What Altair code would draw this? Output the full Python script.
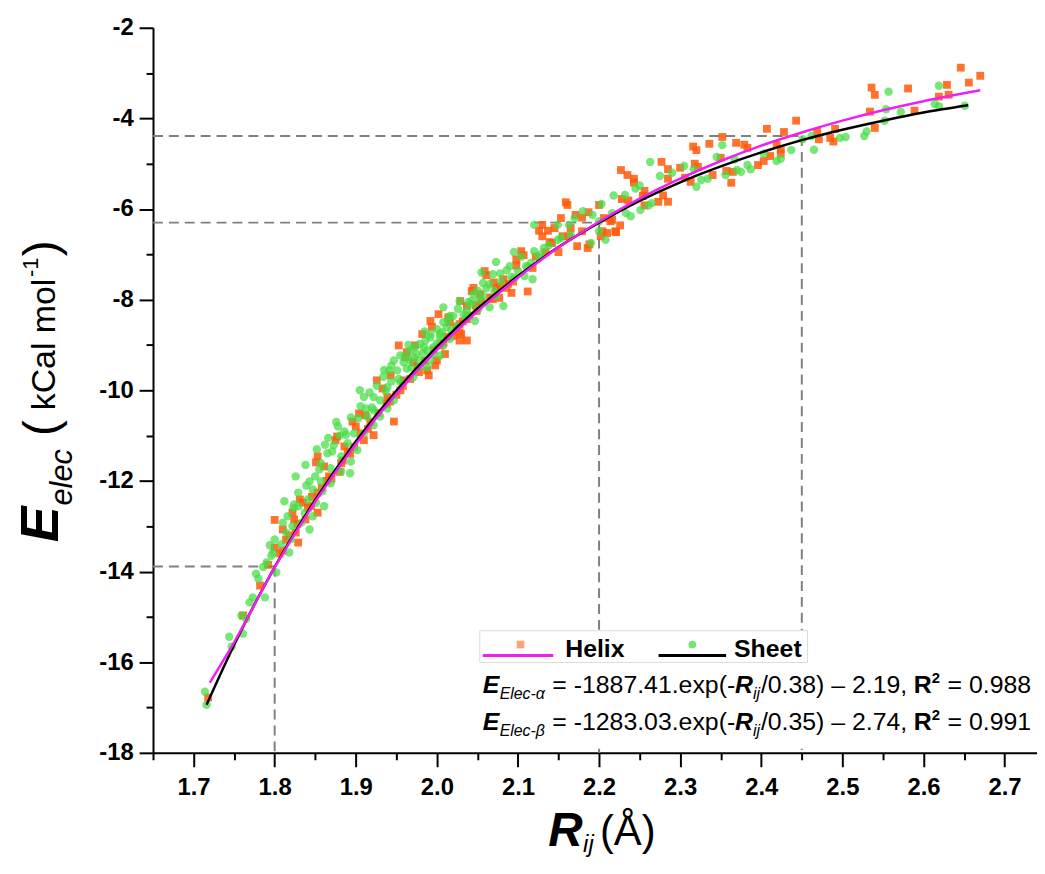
import altair as alt
import pandas as pd

# ---------------- data ----------------
helix_x = [2.646, 2.670, 2.656, 2.629, 2.536, 2.581, 2.540, 2.631, 2.619, 2.534, 2.589, 2.443, 2.540, 2.491,
           2.407, 2.428, 2.469, 2.471, 2.485, 2.489, 2.352, 2.336, 2.369, 2.379, 2.383, 2.316, 2.320, 2.419,
           2.424, 2.424, 2.411, 2.403, 2.396, 2.350, 2.277, 2.285, 2.300, 2.318, 2.322, 2.357, 2.365, 2.340,
           2.363, 2.227, 2.235, 2.243, 2.243, 2.285, 2.306, 2.313, 2.256, 2.254, 2.279, 2.273, 2.285, 2.228,
           2.236, 2.256, 2.200, 2.159, 2.161, 2.153, 2.171, 2.179, 2.187, 2.206, 2.214, 2.226, 2.221, 2.210,
           2.202, 2.188, 2.173, 2.130, 2.126, 2.137, 2.145, 2.130, 2.139, 2.155, 2.163, 2.165, 2.179, 2.186,
           2.204, 2.220, 2.216, 2.104, 2.107, 2.098, 2.112, 2.059, 2.061, 2.082, 2.086, 2.092, 2.073, 2.045,
           2.043, 2.053, 2.069, 2.077, 2.029, 2.037, 2.049, 2.037, 2.028, 2.002, 1.992, 1.994, 2.016, 2.024,
           1.982, 2.030, 2.028, 2.010, 1.973, 1.961, 1.988, 1.998, 1.953, 2.014, 2.028, 2.037, 1.963, 1.971,
           1.990, 2.000, 2.004, 1.926, 1.943, 1.933, 1.939, 1.955, 1.959, 1.947, 1.904, 1.896, 1.900, 1.912,
           1.922, 1.910, 1.877, 1.875, 1.886, 1.890, 1.853, 1.851, 1.861, 1.882, 1.867, 1.853, 1.831, 1.835,
           1.841, 1.853, 1.822, 1.824, 1.800, 1.810, 1.826, 1.829, 1.800, 1.810, 1.782, 1.761, 1.718,
           2.118, 2.122, 2.134, 2.094, 2.078, 2.066, 2.055, 2.020, 2.008, 1.985, 1.978, 1.967, 1.950, 1.938,
           1.918, 1.906, 1.893, 1.880, 1.870, 1.858, 1.846, 1.838, 1.818, 1.806, 2.142, 2.150, 2.088, 2.040,
           2.098, 2.070, 2.048, 2.032, 2.012, 1.996, 1.976, 1.958, 1.942, 1.928, 1.915, 1.898, 1.884, 1.864,
           1.845, 1.828, 1.814, 1.792]
helix_y = [-2.88, -3.06, -3.21, -3.26, -3.32, -3.34, -3.48, -3.48, -3.52, -3.85, -3.83, -4.05, -4.21, -4.23,
           -4.23, -4.30, -4.30, -4.46, -4.43, -4.51, -4.41, -4.56, -4.54, -4.58, -4.65, -4.62, -4.70, -4.58,
           -4.68, -4.78, -4.83, -4.94, -5.03, -4.87, -4.96, -5.12, -5.09, -5.00, -5.07, -5.16, -5.18, -5.25,
           -5.42, -5.14, -5.25, -5.33, -5.42, -5.33, -5.31, -5.40, -5.60, -5.71, -5.70, -5.84, -5.84, -5.78,
           -5.81, -5.92, -5.91, -5.85, -5.91, -6.20, -6.13, -6.19, -6.07, -6.20, -6.27, -6.36, -6.51, -6.53,
           -6.60, -6.78, -6.82, -6.35, -6.48, -6.48, -6.42, -6.60, -6.73, -6.60, -6.60, -6.42, -6.49, -6.86,
           -6.49, -6.49, -6.24, -6.93, -7.02, -7.11, -7.82, -7.37, -7.46, -7.55, -7.74, -7.85, -7.74, -7.74,
           -7.81, -7.88, -7.99, -7.96, -8.03, -8.14, -8.25, -8.43, -8.54, -8.32, -8.47, -8.60, -8.50, -8.61,
           -8.76, -8.76, -8.90, -9.20, -9.01, -9.27, -9.56, -9.45, -9.01, -8.39, -8.72, -8.90, -9.16, -9.38,
           -9.67, -9.34, -9.01, -9.78, -9.67, -9.96, -10.15, -10.00, -9.78, -10.69, -10.51, -10.69, -10.80, -10.55,
           -10.99, -11.10, -11.02, -11.10, -11.24, -11.35, -11.46, -11.59, -11.68, -11.61, -11.90, -12.26, -12.41, -12.48,
           -12.59, -12.70, -12.70, -12.85, -12.86, -13.07, -13.14, -13.36, -13.47, -13.54, -14.31, -14.97, -16.78,
           -7.30, -7.05, -6.95, -7.60, -7.70, -7.95, -8.05, -8.80, -8.95, -9.35, -9.60, -9.75, -10.10, -10.30,
           -10.70, -10.95, -11.40, -11.80, -11.95, -12.15, -12.35, -12.85, -13.20, -13.60, -6.75, -6.95, -7.65, -8.35,
           -7.25, -7.62, -8.12, -8.48, -8.82, -9.10, -9.48, -9.90, -10.25, -10.50, -10.85, -11.25, -11.55, -12.00,
           -12.55, -12.95, -13.30, -13.85]

sheet_x = [2.619, 2.557, 2.614, 2.619, 2.651, 2.554, 2.572, 2.552, 2.530, 2.527, 2.497, 2.504, 2.465, 2.462,
           2.451, 2.437, 2.424, 2.419, 2.403, 2.352, 2.367, 2.370, 2.375, 2.383, 2.387, 2.356, 2.263, 2.275,
           2.317, 2.326, 2.320, 2.334, 2.250, 2.218, 2.232, 2.265, 2.261, 2.251, 2.239, 2.233, 2.203, 2.192,
           2.208, 2.200, 2.190, 2.149, 2.163, 2.153, 2.165, 2.216, 2.200, 2.120, 2.149, 2.120, 2.132, 2.126,
           2.116, 2.110, 2.073, 2.090, 2.100, 2.096, 2.108, 2.118, 2.069, 2.057, 2.065, 2.045, 2.057, 2.073,
           2.082, 2.065, 2.051, 2.043, 2.033, 2.016, 2.008, 2.028, 2.012, 2.004, 1.992, 1.984, 1.996, 2.008,
           1.975, 1.967, 1.959, 1.979, 1.992, 2.004, 2.037, 2.047, 2.020, 2.008, 2.024, 1.992, 2.004, 2.016,
           1.979, 1.988, 1.996, 1.967, 1.955, 1.947, 1.979, 1.988, 1.963, 1.951, 1.941, 1.971, 1.955, 1.939,
           1.922, 1.910, 1.930, 1.947, 1.939, 1.922, 1.914, 1.930, 1.922, 1.886, 1.898, 1.910, 1.873, 1.890,
           1.902, 1.865, 1.882, 1.894, 1.857, 1.869, 1.882, 1.893, 1.843, 1.857, 1.869, 1.847, 1.859, 1.829,
           1.841, 1.851, 1.861, 1.829, 1.837, 1.847, 1.816, 1.822, 1.833, 1.843, 1.814, 1.800, 1.820, 1.808,
           1.818, 1.798, 1.790, 1.777, 1.780, 1.788, 1.773, 1.769, 1.759, 1.765, 1.761, 1.744, 1.747, 1.714,
           1.716, 1.802, 1.796,
           2.138, 2.128, 2.104, 2.086, 2.079, 2.061, 2.050, 2.039, 2.026, 2.014, 2.000, 1.986, 1.972, 1.961,
           1.944, 1.934, 1.926, 1.917, 1.906, 1.894, 1.878, 1.866, 1.852, 1.838, 1.826, 1.812, 1.985, 1.965,
           1.935, 1.905, 1.876, 1.862, 2.055, 2.095, 2.170, 2.180, 2.245, 2.290, 2.305, 2.345,
           2.112, 2.092, 2.071, 2.052, 2.036, 2.018, 2.000, 1.983, 1.969, 1.953, 1.937, 1.920, 1.903, 1.888,
           1.871, 1.855, 1.839, 1.824, 1.810, 1.794, 2.078, 2.042, 2.006, 1.972, 1.944, 1.913, 1.880, 1.850,
           1.823, 1.786]
sheet_y = [-3.28, -3.41, -3.68, -3.73, -3.72, -3.80, -3.86, -4.05, -4.29, -4.39, -4.43, -4.41, -4.69, -4.39,
           -4.46, -4.70, -4.89, -4.94, -4.78, -4.59, -4.90, -5.14, -5.18, -5.03, -5.12, -5.25, -4.96, -5.27,
           -5.12, -5.36, -5.51, -5.33, -5.48, -5.70, -5.69, -5.87, -5.92, -6.02, -6.16, -6.09, -5.89, -6.13,
           -6.68, -6.49, -6.75, -6.35, -6.35, -6.64, -6.57, -6.09, -6.27, -6.35, -6.68, -6.93, -6.86, -7.08,
           -7.19, -7.26, -7.17, -7.26, -7.37, -7.52, -7.48, -7.55, -7.44, -7.63, -7.66, -7.88, -7.92, -7.92,
           -8.14, -8.17, -8.21, -8.03, -8.32, -8.36, -8.17, -8.03, -8.61, -8.76, -8.83, -9.05, -9.05, -9.01,
           -9.20, -9.34, -9.38, -9.49, -9.34, -9.23, -8.25, -8.47, -8.36, -8.50, -8.58, -8.76, -8.83, -8.87,
           -8.98, -9.12, -9.20, -9.12, -9.23, -9.34, -9.34, -9.49, -9.52, -9.56, -9.56, -9.71, -9.82, -9.93,
           -10.15, -10.15, -10.22, -10.22, -10.40, -10.44, -10.58, -10.58, -10.77, -10.91, -10.95, -10.95, -11.21, -11.17,
           -11.32, -11.39, -11.46, -11.57, -11.61, -11.72, -11.79, -11.83, -12.01, -12.01, -12.05, -12.19, -12.23, -12.26,
           -12.41, -12.48, -12.56, -12.56, -12.70, -12.78, -12.78, -13.00, -12.92, -13.07, -13.14, -13.29, -13.29, -13.40,
           -13.58, -13.58, -13.80, -14.05, -14.16, -14.57, -14.57, -14.68, -14.97, -15.04, -15.37, -15.44, -15.66, -16.65,
           -16.94, -14.02, -13.65,
           -6.80, -7.00, -7.05, -7.35, -7.60, -7.75, -7.80, -8.05, -8.20, -8.45, -8.65, -8.90, -9.05, -9.25,
           -9.45, -9.70, -9.90, -10.05, -10.35, -10.60, -10.80, -11.05, -11.30, -11.65, -11.90, -12.45, -8.70, -9.00,
           -9.55, -10.00, -10.70, -11.20, -7.40, -6.95, -6.20, -6.05, -5.55, -5.20, -5.05, -4.85,
           -7.28, -7.50, -7.82, -8.00, -8.38, -8.68, -8.96, -9.18, -9.50, -9.75, -10.02, -10.38, -10.62, -10.98,
           -11.35, -11.75, -12.10, -12.52, -12.92, -13.42, -7.42, -8.10, -8.72, -9.28, -9.80, -10.40, -11.00, -11.90,
           -12.60, -13.90]

fit_helix_x = [1.72, 1.75, 1.80, 1.85, 1.90, 1.95, 2.00, 2.05, 2.10, 2.15, 2.20, 2.25, 2.30, 2.35, 2.40,
               2.45, 2.50, 2.55, 2.60, 2.67]
fit_helix_y = [-16.45, -15.56, -13.91, -12.46, -11.19, -10.08, -9.11, -8.26, -7.51, -6.85, -6.28, -5.77,
               -5.33, -4.94, -4.60, -4.31, -4.05, -3.82, -3.62, -3.38]
fit_sheet_x = [1.716, 1.75, 1.80, 1.85, 1.90, 1.95, 2.00, 2.05, 2.10, 2.15, 2.20, 2.25, 2.30, 2.35, 2.40,
               2.45, 2.50, 2.55, 2.60, 2.655]
fit_sheet_y = [-16.94, -15.62, -13.90, -12.42, -11.13, -10.01, -9.04, -8.20, -7.48, -6.84, -6.30, -5.82,
               -5.41, -5.06, -4.75, -4.48, -4.25, -4.05, -3.87, -3.71]

guide_x = [2.45, 2.20, 1.80]
guide_y = [-4.39, -6.30, -13.89]

x_major = [1.7, 1.8, 1.9, 2.0, 2.1, 2.2, 2.3, 2.4, 2.5, 2.6, 2.7]
x_minor = [1.65, 1.75, 1.85, 1.95, 2.05, 2.15, 2.25, 2.35, 2.45, 2.55, 2.65]
y_major = [-18, -16, -14, -12, -10, -8, -6, -4, -2]
y_minor = [-17, -15, -13, -11, -9, -7, -5, -3]

legend_names = ["Helix", "Sheet"]
eq_helix = ["E", "Elec-α", "= -1887.41.exp(-", "R", "ij", "/0.38) – 2.19,", "R", "2", "= 0.988"]
eq_sheet = ["E", "Elec-β", "= -1283.03.exp(-", "R", "ij", "/0.35) – 2.74,", "R", "2", "= 0.991"]

# ---------------- layout constants ----------------
OX, OY = 154, 25          # plot origin in page pixels
W, H = 890, 730
XDOM = [1.65, 2.74]
YDOM = [-18, -2]
ORANGE = "#FF5A0A"
GREEN = "#45DC45"
MAGENTA = "#F020F0"
SANS = "Liberation Sans"

xs = alt.Scale(domain=XDOM, nice=False, zero=False)
ys = alt.Scale(domain=YDOM, nice=False, zero=False)

helix = pd.DataFrame({"x": helix_x, "y": helix_y})
sheet = pd.DataFrame({"x": sheet_x, "y": sheet_y})
fh = pd.DataFrame({"x": fit_helix_x, "y": fit_helix_y})
fs = pd.DataFrame({"x": fit_sheet_x, "y": fit_sheet_y})

segs = []
for gx, gy in zip(guide_x, guide_y):
    segs.append({"x1": XDOM[0], "x2": gx, "y1": gy, "y2": gy})
    segs.append({"x1": gx, "x2": gx, "y1": gy, "y2": YDOM[0]})
segs = pd.DataFrame(segs)

lab = dict(labelFont=SANS, labelFontWeight="bold", labelFontSize=24, labelColor="black",
           domainColor="black", domainWidth=2, tickColor="black", tickWidth=2, title=None, grid=False)
major_x_axis = alt.Axis(values=x_major, orient="bottom", tickSize=14, labelPadding=9,
                        labelExpr="format(datum.value, '.1f')", **lab)
major_y_axis = alt.Axis(values=y_major, orient="left", tickSize=14, labelPadding=6,
                        labelExpr="'' + datum.value", **lab)
minor_x_axis = alt.Axis(values=x_minor, orient="bottom", tickSize=7, labels=False, domain=False,
                        tickColor="black", tickWidth=2, title=None, grid=False)
minor_y_axis = alt.Axis(values=y_minor, orient="left", tickSize=7, labels=False, domain=False,
                        tickColor="black", tickWidth=2, title=None, grid=False)

guides = alt.Chart(segs).mark_rule(color="#808080", strokeWidth=2, strokeDash=[10, 6]).encode(
    x=alt.X("x1:Q", scale=xs, axis=minor_x_axis), x2="x2:Q",
    y=alt.Y("y1:Q", scale=ys, axis=minor_y_axis), y2="y2:Q")

pts_h = alt.Chart(helix).mark_square(color=ORANGE, opacity=0.85, size=62).encode(
    x=alt.X("x:Q", scale=xs, axis=major_x_axis),
    y=alt.Y("y:Q", scale=ys, axis=major_y_axis))
pts_s = alt.Chart(sheet).mark_circle(color=GREEN, opacity=0.72, size=72).encode(
    x=alt.X("x:Q", scale=xs, axis=None), y=alt.Y("y:Q", scale=ys, axis=None))

line_s = alt.Chart(fs).mark_line(color="black", strokeWidth=2.5, interpolate="monotone").encode(
    x=alt.X("x:Q", scale=xs, axis=None), y=alt.Y("y:Q", scale=ys, axis=None))
line_h = alt.Chart(fh).mark_line(color=MAGENTA, strokeWidth=2.5, interpolate="monotone").encode(
    x=alt.X("x:Q", scale=xs, axis=None), y=alt.Y("y:Q", scale=ys, axis=None))

one = alt.Data(values=[{"k": 1}])


def px(v):
    return v - OX


def py(v):
    return v - OY


def txt(s, x, y, size, weight="normal", style="normal", angle=0, font=SANS, color="black"):
    return alt.Chart(one).mark_text(
        text=s, fontSize=size, fontWeight=weight, fontStyle=style, font=font, angle=angle,
        align="left", baseline="alphabetic", color=color
    ).encode(x=alt.value(px(x)), y=alt.value(py(y)))


def box(x1, y1, x2, y2, fill="white", stroke=None):
    kw = {"fill": fill}
    if stroke:
        kw.update(stroke=stroke, strokeWidth=1)
    else:
        kw.update(strokeWidth=0)
    return alt.Chart(one).mark_rect(**kw).encode(
        x=alt.value(px(x1)), x2=alt.value(px(x2)), y=alt.value(py(y1)), y2=alt.value(py(y2)))


def hline(x1, x2, y, color):
    return alt.Chart(one).mark_rule(color=color, strokeWidth=3).encode(
        x=alt.value(px(x1)), x2=alt.value(px(x2)), y=alt.value(py(y)))


layers = [guides, pts_h, pts_s, line_s, line_h,
          box(483, 632, 1045, 751),
          box(483, 632, 813, 664, fill="white", stroke="#dcdcdc"),
          hline(486, 557, 657, MAGENTA),
          alt.Chart(one).mark_square(color=ORANGE, opacity=0.55, size=60).encode(
              x=alt.value(px(524)), y=alt.value(py(646))),
          txt(legend_names[0], 569, 659, 25, weight="bold"),
          hline(663, 731, 657, "black"),
          alt.Chart(one).mark_circle(color=GREEN, opacity=0.75, size=60).encode(
              x=alt.value(px(697)), y=alt.value(py(646))),
          txt(legend_names[1], 739, 659, 25, weight="bold")]

# equations
eq_x = [486, 503, 556, 740, 758, 766, 920, 938, 954]
eq_dy = [0, 6, 0, 0, 6, 0, 0, -10, 0]
eq_size = [25, 16, 25, 25, 16, 25, 25, 15, 25]
eq_w = ["bold", "normal", "normal", "bold", "normal", "normal", "bold", "bold", "normal"]
eq_st = ["italic", "italic", "normal", "italic", "italic", "normal", "normal", "normal", "normal"]
for base, eq in ((695, eq_helix), (732, eq_sheet)):
    for i, s in enumerate(eq):
        layers.append(txt(s, eq_x[i], base + eq_dy[i], eq_size[i], weight=eq_w[i], style=eq_st[i]))

# y-axis title (rotated)
layers += [
    txt("E", 58, 543, 54, weight="bold", style="italic", angle=270),
    txt("elec", 72, 506, 31, style="italic", angle=270),
    txt("(", 57, 436, 48, angle=270),
    txt("kCal mol", 55, 410, 34, angle=270),
    txt("-1", 38, 276, 22, angle=270),
    txt(")", 57, 255, 48, angle=270),
]
# x-axis title
layers += [
    txt("R", 552, 849, 48, weight="bold", style="italic"),
    txt("ij", 587, 855, 24, style="italic"),
    txt("(Å)", 604, 848, 42),
]

chart = alt.layer(*layers).resolve_axis(x="independent", y="independent").properties(
    width=W, height=H,
    autosize=alt.AutoSizeParams(type="none"),
    padding={"left": OX - 8, "top": OY - 8, "right": 0, "bottom": 105},
).configure_view(stroke=None)

chart.save("out.html", embed_options={"renderer": "svg", "actions": False})
